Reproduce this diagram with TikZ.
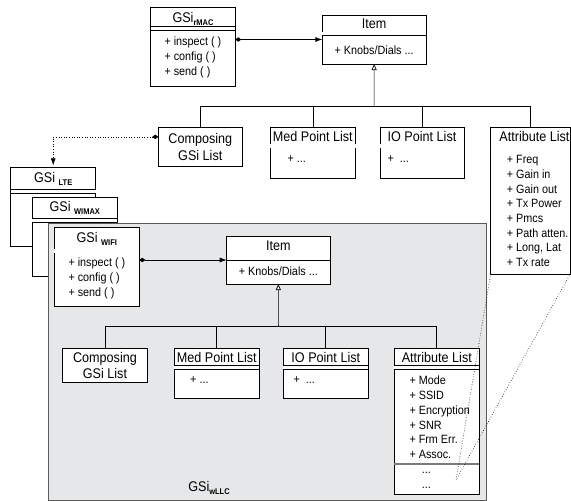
\documentclass[tikz,border=0pt]{standalone}
\usepackage{fontspec}
\setmainfont{Liberation Sans}[FakeStretch=0.9]
\usetikzlibrary{arrows.meta}

\definecolor{llcgray}{RGB}{230,231,232}
\definecolor{llcedge}{RGB}{90,90,90}

% subscript of the GSi names
\newcommand{\gsisub}[1]{\raisebox{-2.7pt}{\fontsize{8.3}{9}\selectfont\bfseries #1}}
% double rule under a class title
\newcommand{\classrule}[2]{%
  \draw[double, double distance=3.2pt, line width=0.7pt]
    ([yshift=-#2]#1.north west) -- ([yshift=-#2]#1.north east);}

\begin{document}
\begin{tikzpicture}[x=1pt, y=-1pt,
    classbox/.style={draw, fill=white, line width=0.8pt, anchor=north west,
      inner sep=0pt, outer sep=0pt, align=center,
      font=\fontsize{14}{16.6}\selectfont},
    titletext/.style={anchor=base, inner sep=0pt, font=\fontsize{14}{16}\selectfont},
    optext/.style={anchor=north west, inner sep=0pt, align=left,
      font=\fontsize{12}{15}\selectfont},
    link/.style={line width=0.7pt},
    owns/.style={link, {Diamond[length=6pt,width=4.5pt]}-{Latex[length=7pt,width=5pt]}},
    isa/.style={link, -{Triangle[open,length=6pt,width=5pt]}}]
    \useasboundingbox (0,0) rectangle (571,501);

    % rMAC level
    \node[classbox, minimum width=84.6pt, minimum height=79.4pt] (mac) at (150.7,7.3) {};
    \classrule{mac}{21pt}
    \node[titletext] (mac-title) at ([yshift=-15.4pt]mac.north) {GSi\gsisub{rMAC}};
    \node[optext] (mac-ops) at ([xshift=13.6pt, yshift=-29.8pt]mac.north west)
        {+ inspect ( )\\+ config ( )\\+ send ( )};

    \node[classbox, minimum width=103.7pt, minimum height=49pt] (item) at (322.3,15) {};
    \classrule{item}{18.85pt}
    \node[titletext] (item-title) at ([yshift=-13.8pt]item.north) {Item};
    \node[titletext, font=\fontsize{12}{14}\selectfont] (item-ops) at ([yshift=-39.5pt]item.north) {+ Knobs/Dials ...};

    \node[classbox, minimum width=84pt, minimum height=38.3pt] (comp) at (158.3,127.7) {Composing\\GSi List};

    \node[classbox, minimum width=85.7pt, minimum height=50.6pt] (med) at (270,127.7) {};
    \classrule{med}{18.3pt}
    \node[titletext] (med-title) at ([yshift=-14pt]med.north) {Med Point List};
    \node[optext, anchor=base west] (med-ops) at ([xshift=17.3pt, yshift=-35pt]med.north west) {+ ...};

    \node[classbox, minimum width=84pt, minimum height=50.6pt] (io) at (380,127.7) {};
    \classrule{io}{18.3pt}
    \node[titletext] (io-title) at ([yshift=-14pt]io.north) {IO Point List};
    \node[optext, anchor=base west] (io-ops) at ([xshift=7.3pt, yshift=-35pt]io.north west) {+\hspace{6pt}...};

    \node[classbox, minimum width=79.5pt, minimum height=146.3pt] (attr) at (490.7,127.7) {};
    \classrule{attr}{18.3pt}
    \node[titletext] (attr-title) at ([xshift=4pt, yshift=-14pt]attr.north) {Attribute List};
    \node[optext, font=\fontsize{12}{14.67}\selectfont] (attr-list) at ([xshift=16pt, yshift=-27.7pt]attr.north west)
        {+ Freq\\+ Gain in\\+ Gain out\\+ Tx Power\\+ Pmcs\\+ Path atten.\\+ Long, Lat\\+ Tx rate};

    \coordinate (topbar) at (374.1,106.7);
    \draw[owns] (mac.east |- item.west) -- (item.west);
    \draw[isa] (topbar) -- (item.south);
    \draw[link] (comp.north) |- (topbar) -| (attr.north);
    \draw[link] (med.north) -- (med.north |- topbar);
    \draw[link] (io.north) -- (io.north |- topbar);

    % stacked GSi boxes
    \node[classbox, minimum width=85pt, minimum height=79.4pt] (lte) at (10.7,167.3) {};
    \classrule{lte}{24pt}
    \node[titletext] (lte-title) at ([yshift=-15.4pt]lte.north) {GSi \gsisub{LTE}};

    \node[classbox, minimum width=85pt, minimum height=79pt] (wimax) at (32.3,197.7) {};
    \classrule{wimax}{22.5pt}
    \node[titletext] (wimax-title) at ([yshift=-14pt]wimax.north) {GSi \gsisub{WIMAX}};

    \draw[dotted, line width=0.6pt, {Diamond[length=6pt,width=4.5pt]}-{Latex[length=7pt,width=5pt]}, shorten >=2pt]
        ([yshift=10pt]comp.west) -| (lte.north);

    % wLLC container
    \node[draw=llcedge, fill=llcgray, line width=0.8pt, anchor=north west, inner sep=0pt,
        minimum width=438pt, minimum height=277.3pt] (llc) at (47.7,222.7) {};
    \node[titletext] (llc-title) at (209,491.7) {GSi\gsisub{wLLC}};

    \node[classbox, minimum width=85pt, minimum height=79pt] (wifi) at (54.3,227.7) {};
    \classrule{wifi}{23.3pt}
    \node[titletext] (wifi-title) at ([yshift=-15pt]wifi.north) {GSi \gsisub{WIFI}};
    \node[optext] (wifi-ops) at ([xshift=14pt, yshift=-29.7pt]wifi.north west)
        {+ inspect ( )\\+ config ( )\\+ send ( )};

    \node[classbox, minimum width=103.3pt, minimum height=48pt] (iitem) at (226.7,236) {};
    \classrule{iitem}{22.85pt}
    \node[titletext] (iitem-title) at ([yshift=-14pt]iitem.north) {Item};
    \node[titletext, font=\fontsize{12}{14}\selectfont] (iitem-ops) at ([yshift=-39pt]iitem.north) {+ Knobs/Dials ...};

    \node[classbox, minimum width=85.4pt, minimum height=34pt] (icomp) at (62.3,348.3) {Composing\\GSi List};

    \node[classbox, minimum width=85pt, minimum height=50pt] (imed) at (174.3,348.3) {};
    \classrule{imed}{19.2pt}
    \node[titletext] (imed-title) at ([yshift=-14.4pt]imed.north) {Med Point List};
    \node[optext, anchor=base west] (imed-ops) at ([xshift=15.7pt, yshift=-35pt]imed.north west) {+ ...};

    \node[classbox, minimum width=85pt, minimum height=50pt] (iio) at (283.3,348.3) {};
    \classrule{iio}{19.2pt}
    \node[titletext] (iio-title) at ([yshift=-14.4pt]iio.north) {IO Point List};
    \node[optext, anchor=base west] (iio-ops) at ([xshift=10pt, yshift=-35pt]iio.north west) {+\hspace{6pt}...};

    \node[classbox, minimum width=85pt, minimum height=146pt] (iattr) at (394.3,348.3) {};
    \classrule{iattr}{19.2pt}
    \node[titletext] (iattr-title) at ([yshift=-14.4pt]iattr.north) {Attribute List};
    \node[optext, font=\fontsize{12}{14.9}\selectfont] (iattr-list) at ([xshift=15pt, yshift=-27.1pt]iattr.north west)
        {+ Mode\\+ SSID\\+ Encryption\\+ SNR\\+ Frm Err.\\+ Assoc.};
    \draw[line width=1.4pt, llcedge!80] ([yshift=-115.7pt]iattr.north west) -- ([yshift=-115.7pt]iattr.north east);
    \node[optext] (iattr-more) at ([xshift=27.4pt, yshift=-123.7pt]iattr.north west) {...\\...};

    \coordinate (ibar) at (278.4,326.7);
    \draw[owns] (wifi.east |- iitem.west) -- (iitem.west);
    \draw[isa] (ibar) -- (iitem.south);
    \draw[link] (icomp.north) |- (ibar) -| (iattr.north);
    \draw[link] (imed.north) -- (imed.north |- ibar);
    \draw[link] (iio.north) -- (iio.north |- ibar);

    % zoom lines from the top attribute list
    \coordinate (zoomtip) at (456,480);
    \draw[dotted, line width=0.6pt] (attr.south west) -- (zoomtip) -- (attr.south east);
\end{tikzpicture}
\end{document}
